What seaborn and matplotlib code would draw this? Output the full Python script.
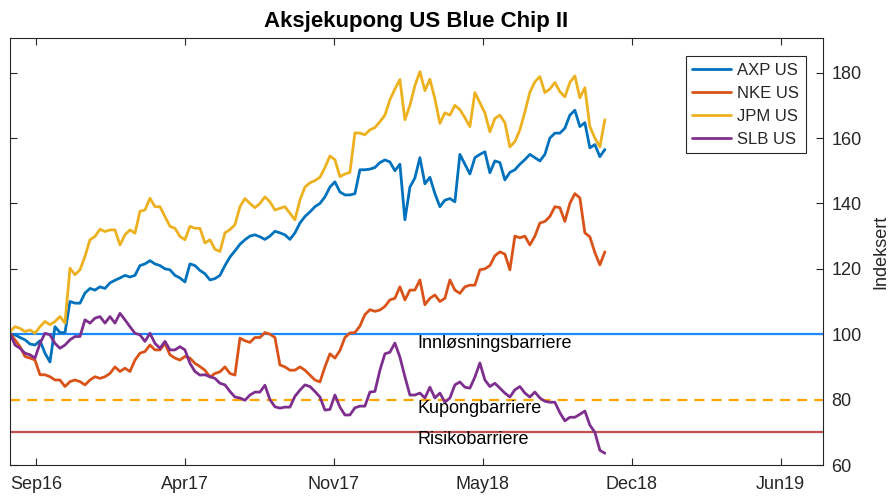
import numpy as np
import pandas as pd
import matplotlib
matplotlib.use("Agg")
import matplotlib.pyplot as plt
import seaborn as sns

# ---------------- data ----------------
start_date = "2016-08-23"
end_date = "2018-10-31"

axp = [100, 99.8, 99, 98.3, 97, 96.7, 98, 94.2, 91.5, 102.3,
       100.5, 100.5, 110, 109.5, 109.5, 112.6, 114, 113.5, 114.5, 114,
       115.7, 116.5, 117.2, 118, 117.5, 118, 121, 121.5, 122.5, 121.5,
       121, 120, 119.7, 118, 117.2, 116, 121.5, 121, 119.5, 118.5,
       116.6, 117, 118, 121, 123.6, 125.5, 127.5, 128.9, 130, 130.4,
       129.8, 129, 130, 131.5, 131, 130.4, 129, 131, 134, 136,
       137.4, 139, 140, 142, 145, 146.6, 143.5, 142.6, 142.6, 143,
       150.3, 150.3, 150.5, 151, 152.5, 153.3, 152.7, 150, 152, 135,
       145, 147.8, 154, 146, 148, 143, 139, 141, 141.5, 140.5,
       155, 152, 149, 154, 155, 155.8, 149.4, 153, 152.5, 147.2,
       149.5, 150.3, 152, 153.4, 155, 154, 153, 155, 160, 161.5,
       161.5, 163, 167, 168.5, 163.5, 164.7, 157, 158, 154.3, 156.5]

nke = [100.3, 98.3, 96.2, 93.2, 92.7, 92.1, 87.6, 87.6, 87, 86,
       86, 84, 85.5, 86, 85.5, 84.5, 86, 87, 86.5, 87,
       88, 90, 88.6, 89.6, 88.6, 92.1, 94.2, 94.7, 96.7, 95.2,
       95.2, 97.2, 93.7, 92.7, 92.1, 93.2, 92.7, 91.1, 90.1, 89,
       86.9, 88, 88.5, 90, 88, 87.5, 98.8, 98, 97.5, 99,
       99, 100.5, 100, 99, 90.6, 90, 89, 89, 90, 89,
       87.5, 86, 85.4, 90, 94, 92.7, 95, 99, 100.4, 100.5,
       102.5, 106, 107.5, 107, 107.4, 108.5, 110.5, 111, 114.5, 110.5,
       113.5, 113.5, 116.6, 109, 111, 112, 110, 111, 116.6, 113.5,
       112.5, 114.5, 115, 115, 119.7, 120, 121, 124, 125.2, 124.5,
       119.7, 130, 129.5, 130, 127.3, 130, 134, 134.5, 136, 139,
       138.7, 134.5, 140, 143, 141.7, 131, 129.8, 125, 121.2, 125.2]

jpm = [100.8, 102.3, 101.8, 100.8, 101.3, 100.3, 102.3, 103.9, 102.9, 103.9,
       105.4, 103.4, 120.2, 118.2, 119.7, 123.8, 128.9, 129.9, 132.1, 131.4,
       131.9, 131.9, 127.3, 130.4, 131.9, 130.9, 137.6, 138, 141.6, 139,
       139, 136, 133, 132.4, 129.9, 128.9, 133, 132.4, 132.4, 127.9,
       128.9, 126, 125.3, 131, 132, 133.5, 139, 141.5, 140, 138.7,
       140, 142, 140.5, 138, 138.5, 139, 137, 135, 141, 145,
       146.3, 147, 148, 151, 154.5, 153.4, 148.2, 149, 149.5, 161.6,
       161.5, 161, 162.5, 163.2, 165, 167, 171.7, 175, 177.9, 165.6,
       170, 176, 180.3, 174.5, 178, 172, 164.5, 167.7, 167, 170,
       168.7, 166.2, 163.5, 173.9, 170.8, 167.7, 161.9, 166, 167, 164.7,
       157.3, 158.9, 162.5, 168, 174, 177.2, 178.8, 173.9, 175, 177,
       174.2, 172.6, 177, 179, 172.3, 175.4, 163.5, 160, 157.3, 165.6]

slb = [100.3, 96.7, 95.7, 94.2, 93.7, 92.7, 97.2, 100.3, 99.8, 97.2,
       95.7, 96.7, 98.3, 99.3, 99.3, 104.4, 103.4, 104.9, 105.4, 103.4,
       105.4, 103.4, 106.4, 104.4, 102.3, 100.3, 99.8, 97.8, 100.3, 97.2,
       95.7, 97.8, 95.2, 95.2, 96.2, 95.2, 91.1, 88.6, 87.5, 87.6,
       87, 86.5, 85, 84.5, 82.5, 80.8, 80.5, 79.8, 81.4, 82.3,
       82.3, 84.4, 80, 77.8, 77.4, 77.7, 77.7, 81, 82.9, 84.5,
       84, 82.5, 80.8, 76.8, 77, 81.4, 77.7, 75.3, 75.3, 77.5,
       78, 78, 82.3, 82.5, 89, 94, 94.5, 97.3, 93, 87,
       81.4, 81.4, 82, 80.5, 83.8, 80.5, 82, 79.2, 80.5, 84.5,
       85.4, 83.8, 83.5, 86.9, 91.2, 86, 84, 85, 83.5, 82,
       80.8, 83, 84, 82, 80.8, 82.3, 80.5, 79.5, 79.2, 79.2,
       76, 73.5, 74.6, 74.6, 75.5, 76.5, 72.2, 70, 64.5, 63.6]

series_names = ["AXP US", "NKE US", "JPM US", "SLB US"]
series_colors = ["#0072BD", "#D95319", "#EDB120", "#7E2F8E"]

barrier_values = [100, 80, 70]
barrier_labels = ["Innløsningsbarriere", "Kupongbarriere", "Risikobarriere"]
barrier_label_y = [97.3, 77.3, 67.9]
barrier_label_date = "2018-02-21"

tick_dates = ["2016-09-27", "2017-04-15", "2017-11-01",
              "2018-05-20", "2018-12-06", "2019-06-24"]
tick_labels = ["Sep16", "Apr17", "Nov17", "May18", "Dec18", "Jun19"]

title = "Aksjekupong US Blue Chip II"
ylabel = "Indeksert"

# ---------------- build table ----------------
dates = pd.date_range(start_date, end_date, periods=len(axp))
wide = pd.DataFrame({"Dato": dates, "AXP US": axp, "NKE US": nke,
                     "JPM US": jpm, "SLB US": slb})
df = wide.melt(id_vars="Dato", var_name="Serie", value_name="Indeks")

# ---------------- plot ----------------
sns.set_theme(style="white")
plt.rcParams["font.family"] = ["Liberation Sans", "DejaVu Sans"]
dark = "#262626"

fig = plt.figure(figsize=(8.91, 4.96), dpi=100)
ax = fig.add_axes([10 / 891, 31 / 496, 813 / 891, 427 / 496])

sns.lineplot(data=df, x="Dato", y="Indeks", hue="Serie",
             hue_order=series_names,
             palette=dict(zip(series_names, series_colors)),
             linewidth=2.0, ax=ax)

barrier_colors = ["#1E88FF", "#FFA500", "#C0504D"]
barrier_styles = ["-", (0, (4.5, 3.2)), "-"]
for v, c, s in zip(barrier_values, barrier_colors, barrier_styles):
    ax.axhline(v, color=c, lw=1.6, ls=s, zorder=1)
for lab, yv in zip(barrier_labels, barrier_label_y):
    ax.text(pd.Timestamp(barrier_label_date), yv, lab, fontsize=13,
            va="center", ha="left", color="black")

ax.set_xlim(pd.Timestamp("2016-08-23"), pd.Timestamp("2019-08-20"))
ax.set_ylim(60, 190.6)
ax.set_xticks(pd.to_datetime(tick_dates))
ax.set_xticklabels(tick_labels)
ax.set_yticks([60, 80, 100, 120, 140, 160, 180])

ax.yaxis.set_label_position("right")
ax.set_ylabel(ylabel, fontsize=13, color=dark, labelpad=8)
ax.set_xlabel("")
ax.tick_params(axis="both", direction="in", length=5, width=0.8,
               colors=dark, labelsize=13, top=True, right=True,
               left=True, bottom=True, labelleft=False, labelright=True)
ax.tick_params(axis="x", pad=8)
ax.tick_params(axis="y", pad=6)
for sp in ax.spines.values():
    sp.set_color(dark)
    sp.set_linewidth(0.8)

ax.set_title(title, fontsize=16, fontweight="bold", color="black", pad=8)

leg = ax.legend(loc="upper right",
                bbox_to_anchor=((806 - 10) / 813, (465 - 56) / 427),
                borderaxespad=0.0,
                fontsize=12, frameon=True, fancybox=False, framealpha=1,
                edgecolor=dark, handlelength=2.3, labelspacing=0.48,
                borderpad=0.4, handletextpad=0.4)
leg.get_frame().set_linewidth(0.8)
for line in leg.get_lines():
    line.set_linewidth(2.0)

fig.savefig("out.png", dpi=100)
